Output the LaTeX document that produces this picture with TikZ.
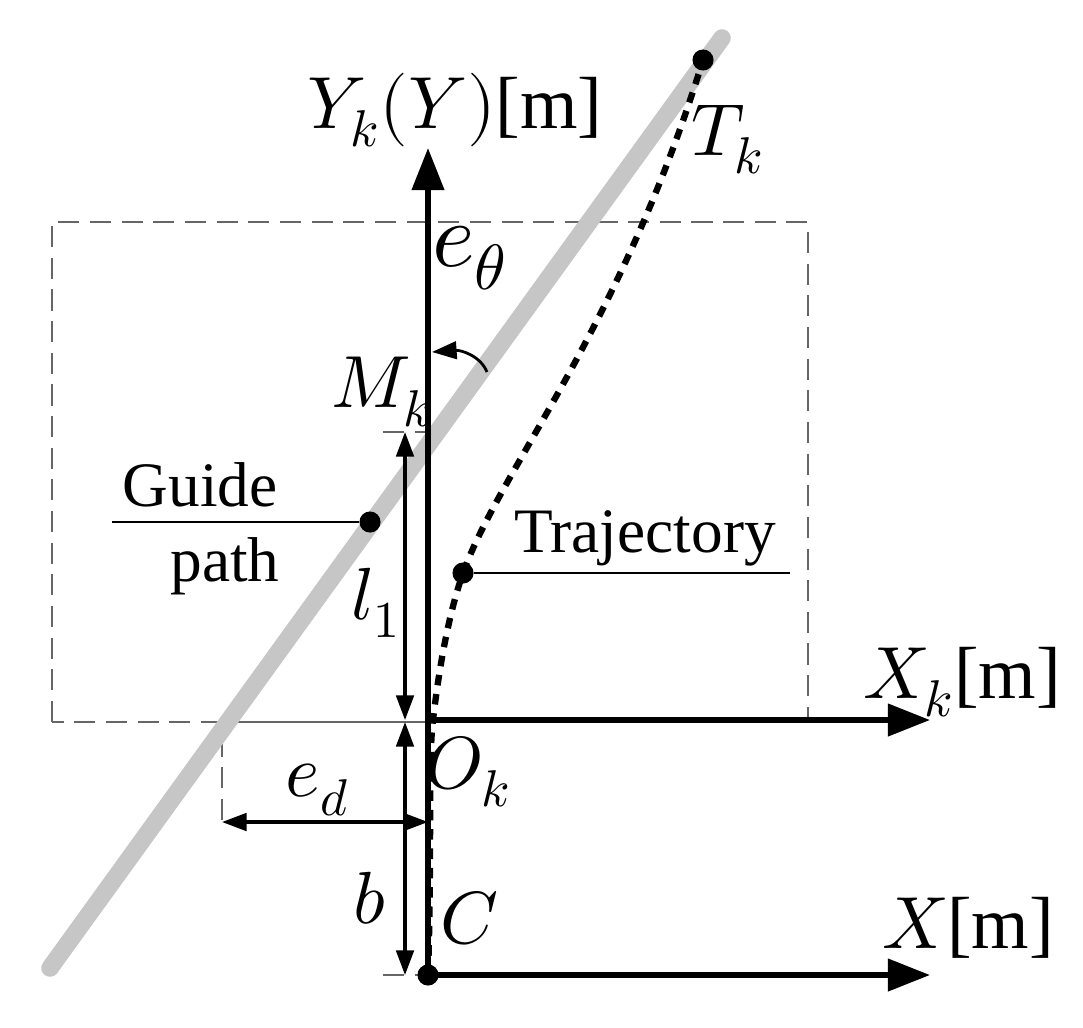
\documentclass[tikz,border=0pt]{standalone}
\usepackage{fontspec}
\setmainfont{Liberation Serif}
\usepackage{unicode-math}
\setmathfont{Latin Modern Math}
\usetikzlibrary{arrows.meta}
\begin{document}
\begin{tikzpicture}[x=0.01cm,y=-0.01cm,
  axis/.style={line width=1.6pt,-{Triangle[length=12pt,width=9pt]}},
  dimline/.style={line width=0.9pt,{Triangle[length=7pt,width=5pt]}-{Triangle[length=7pt,width=5pt]}},
  dashline/.style={gray!80!black,line width=0.6pt,dash pattern=on 6pt off 3pt},
  dot/.style={circle,fill=black,inner sep=0pt,minimum size=6pt},
  big/.style={font=\fontsize{21}{24}\selectfont},
  mid/.style={font=\fontsize{18}{20}\selectfont}]
\useasboundingbox (0,0) rectangle (1083,1027);
% dashed boxes
\draw[dashline] (52,722) rectangle (808,222);
\draw[dashline] (222,820) -- (222,722) -- (428,722);
\draw[dashline] (383,432) -- (428,432);
\draw[dashline] (383,975) -- (428,975);
% guide path
\draw[line width=5pt,gray!45,line cap=round] (50,968) -- (722,38);
% axes
\coordinate (C) at (428,975);
\coordinate (O) at (428,720);
\draw[axis] (C) -- (428,148) coordinate (Ytip);
\draw[axis] (O) -- (930,720) coordinate (Xktip);
\draw[axis] (C) -- (930,975) coordinate (Xtip);
% trajectory
\node[dot] (Cd) at (C) {};
\node[dot] (Td) at (703,60) {};
\node[dot] (Pd) at (463,573) {};
\node[dot] (Gd) at (370,522) {};
\draw[line width=1.8pt,dash pattern=on 3pt off 2.5pt] (C) .. controls (432,850) and (428,760) .. (433,720)
  .. controls (440,660) and (450,610) .. (463,573)
  .. controls (500,470) and (620,330) .. (703,60);
% label lines
\draw[line width=0.6pt] (Pd) -- (790,573);
\draw[line width=0.6pt] (112,522) -- (Gd);
% dimensions
\draw[dimline] (405,432) -- (405,720);
\draw[dimline] (405,722) -- (405,975);
\draw[dimline] (222,822) -- (428,822);
% angle arrow
\draw[line width=0.8pt,-{Triangle[length=7pt,width=5pt]}] (487,372) .. controls (480,355) and (460,350) .. (432,352);
% texts
\node[big] at (455,110) {$Y_k(Y)$[m]};
\node[big] at (728,140) {$T_k$};
\node[font=\fontsize{26}{28}\selectfont] at (470,258) {$e_\theta$};
\node[big] at (382,392) {$M_k$};
\node[big] at (962,682) {$X_k$[m]};
\node[big] at (468,772) {$O_k$};
\node[big] at (318,790) {$e_d$};
\node[big] at (968,928) {$X$[m]};
\node[big] at (470,918) {$C$};
\node[big] at (376,603) {$l_1$};
\node[big] at (370,898) {$b$};
\node[mid] at (645,538) {Trajectory};
\node[mid] at (200,485) {Guide};
\node[mid] at (225,566) {path};
\end{tikzpicture}
\end{document}
